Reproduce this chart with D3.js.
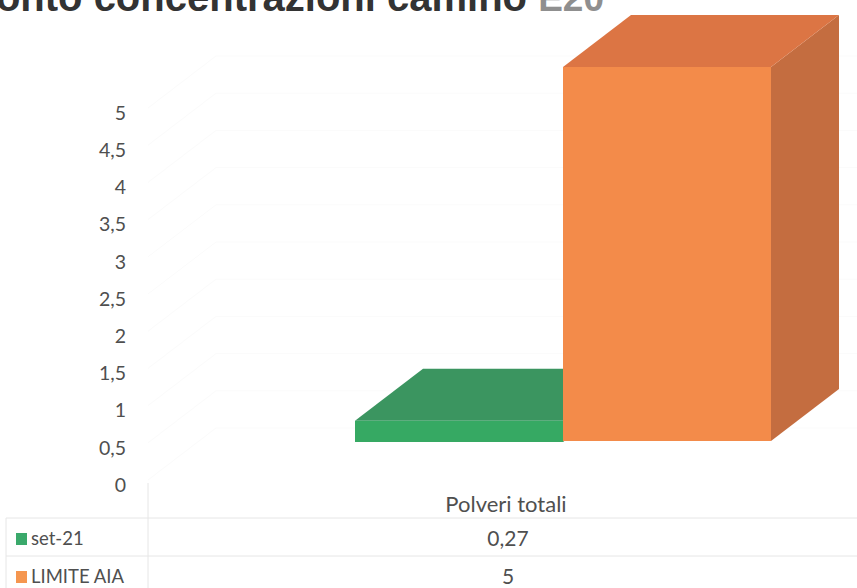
<!DOCTYPE html>
<html>
<head>
<meta charset="utf-8">
<script src="https://cdn.jsdelivr.net/npm/d3@7"></script>
<style>
  html, body { margin: 0; padding: 0; background: #fff; overflow: hidden; }
  text { font-family: Lato, "Open Sans", sans-serif; fill: #4f4f4f; }
</style>
</head>
<body>
<svg id="chart" width="857" height="588"></svg>
<script>
//chart values
var seriesNames = ["set-21", "LIMITE AIA"];
var seriesValues = [0.27, 5];
var seriesLabels = ["0,27", "5"];
var categoryName = "Polveri totali";
var tickValues = [0, 0.5, 1, 1.5, 2, 2.5, 3, 3.5, 4, 4.5, 5];
var titleDark = "Confronto concentrazioni camino ";
var titleLight = "E20";

//front, top and side colours for each series
var frontColors = ["#36a963", "#f38b4a"];
var topColors = ["#3b9560", "#dc7544"];
var sideColors = ["#2f8a55", "#c46d40"];
var legendColors = ["#3aa96b", "#f5964f"];

var svg = d3.select("#chart");

//3d offset of the box depth
var depthX = 68, depthY = -52;

//scales
var x = d3.scaleBand().domain(seriesNames).range([355, 771]).padding(0);
var y = d3.scaleLinear().domain([0, 5]).range([441, 67]);

//axis labels sit on the lower left edge of the wall
var yAxisScale = d3.scaleLinear().domain([0, 5]).range([485, 113]);

//faint walls and gridlines
var grid = svg.append("g").attr("stroke", "#fbfbfb").attr("fill", "none");
tickValues.forEach(function(t) {
    var gy = yAxisScale(t) - 5;
    grid.append("path")
        .attr("d", "M148," + gy + "L" + (148 + depthX) + "," + (gy + depthY) + "L857," + (gy + depthY));
});

//bars, lower one first so the tall one overlaps it
seriesNames.forEach(function(name, i) {
    var x0 = x(name), x1 = x0 + x.bandwidth();
    var yTop = y(seriesValues[i]), yBottom = y(0) + (i === 0 ? 1 : 0);
    var g = svg.append("g").attr("class", "bar");

    var poly = function(pts, color) {
        g.append("polygon")
            .attr("points", pts.map(function(p) { return p.join(","); }).join(" "))
            .attr("fill", color);
    };

    //side face
    poly([[x1, yTop], [x1 + depthX, yTop + depthY], [x1 + depthX, yBottom + depthY], [x1, yBottom]], sideColors[i]);
    //top face
    poly([[x0, yTop], [x0 + depthX, yTop + depthY], [x1 + depthX, yTop + depthY], [x1, yTop]], topColors[i]);
    //front face
    poly([[x0, yTop], [x1, yTop], [x1, yBottom], [x0, yBottom]], frontColors[i]);
});

//value axis labels
svg.append("g").selectAll("text")
    .data(tickValues)
    .enter().append("text")
    .attr("x", 126)
    .attr("y", function(d) { return yAxisScale(d); })
    .attr("dy", "0.35em")
    .attr("text-anchor", "end")
    .style("font-size", "19.5px")
    .text(function(d) { return String(d).replace(".", ","); });

//data table lines
var rowY = [518, 556];
var table = svg.append("g").attr("stroke", "#e6e6e6").attr("fill", "none");
rowY.forEach(function(r) {
    table.append("line").attr("x1", 6).attr("x2", 857).attr("y1", r).attr("y2", r);
});
table.append("line").attr("x1", 148).attr("x2", 148).attr("y1", 483).attr("y2", 588);
table.append("line").attr("x1", 6).attr("x2", 6).attr("y1", 518).attr("y2", 588);

//data table text
svg.append("text")
    .attr("x", 506).attr("y", 512)
    .attr("text-anchor", "middle")
    .style("font-size", "22px")
    .text(categoryName);

var rowCenters = [539, 577];
seriesNames.forEach(function(name, i) {
    svg.append("rect")
        .attr("x", 16).attr("y", rowCenters[i] - 6)
        .attr("width", 11).attr("height", 12)
        .attr("fill", legendColors[i]);
    svg.append("text")
        .attr("x", 31).attr("y", rowCenters[i])
        .attr("dy", "0.35em")
        .style("font-size", "18.5px")
        .text(name);
    svg.append("text")
        .attr("x", 508).attr("y", rowCenters[i])
        .attr("dy", "0.35em")
        .attr("text-anchor", "middle")
        .style("font-size", "21px")
        .text(seriesLabels[i]);
});

//title, cut off by the top and left edge
var title = svg.append("text")
    .attr("x", 604).attr("y", 11)
    .attr("text-anchor", "end")
    .style("font-family", "'Liberation Sans', Arial, sans-serif")
    .style("font-weight", "bold");
title.append("tspan").style("fill", "#333333").style("font-size", "40px").text(titleDark);
title.append("tspan").style("fill", "#8f8f8f").style("font-size", "37px").text(titleLight);
</script>
</body>
</html>
